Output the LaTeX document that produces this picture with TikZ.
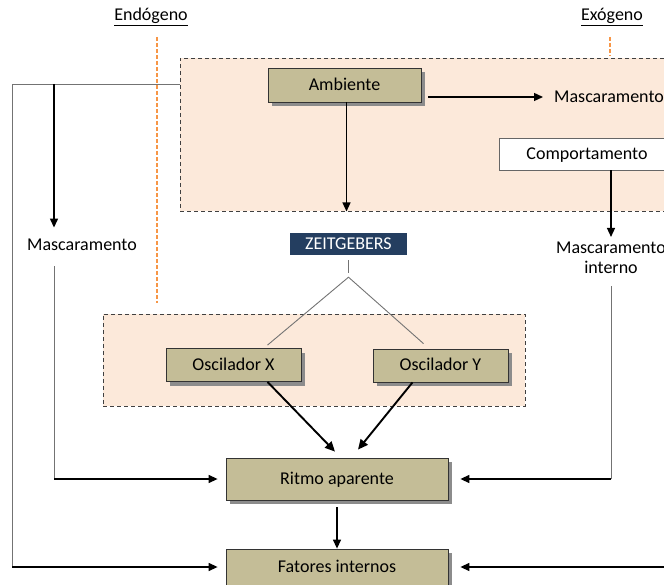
\documentclass[tikz,border=0pt]{standalone}
\usepackage{fontspec}
\setmainfont{Carlito}
\usetikzlibrary{shadows,arrows.meta}
\definecolor{caqui}{RGB}{196,189,151}
\definecolor{pessego}{RGB}{252,233,218}
\definecolor{azulzeit}{RGB}{36,62,96}
\definecolor{laranja}{RGB}{247,150,70}
\tikzset{
  letra/.style={font=\fontsize{18}{20}\selectfont, inner sep=2pt},
  rotulo/.style={letra, text height=11.5pt, text depth=1pt},
  caixa/.style={rotulo, draw=black!80, line width=0.8pt, fill=caqui,
    drop shadow={shadow xshift=4pt, shadow yshift=-4pt, fill=black!45, opacity=1}},
  regiao/.style={draw=black!75, line width=0.9pt, dash pattern=on 4pt off 3pt, fill=pessego},
  limite/.style={draw=laranja, line width=1.3pt, dash pattern=on 4pt off 2pt},
  fio/.style={draw=black!55, line width=0.9pt},
  seta/.style={-{Triangle[length=9pt,width=8pt]}, line width=1.3pt},
  setagrossa/.style={-{Triangle[length=10pt,width=9pt]}, line width=1.9pt},
}

\begin{document}
\begin{tikzpicture}[x=1pt,y=-1pt]
\useasboundingbox (0,0) rectangle (664,585);
\clip (0,0) rectangle (664,585);

% linhas de limite
\draw[limite] (157,37) -- (157,303);
\draw[limite] (610,37) -- (610,56);
\node[letra] (endo) at (151,17) {\underline{Endógeno}};
\node[letra] (exo) at (612,17) {\underline{Exógeno}};

% regioes tracejadas
\node[regiao, minimum width=540pt, minimum height=153pt] (ambreg) at (450,134.5) {};
\node[regiao, minimum width=422pt, minimum height=92pt] (oscreg) at (314,360) {};

% caixas
\node[caixa, minimum width=153pt, minimum height=34pt] (ambiente) at (344.5,85) {Ambiente};
\node[rotulo, anchor=west] (mascExt) at (552,97) {Mascaramento};
\node[rotulo, draw=black!60, line width=0.8pt, fill=white, minimum width=176pt, minimum height=32pt] (comport) at (587,154) {Comportamento};
\node[rotulo] (mascLeft) at (82,245) {Mascaramento};
\node[letra, align=center] (mascInt) at (611,258) {Mascaramento\\interno};
\node[rotulo, fill=azulzeit, text=white, minimum width=117pt, minimum height=22pt, inner sep=0pt] (zeit) at (348.5,244) {ZEITGEBERS};
\node[caixa, minimum width=135pt, minimum height=33pt] (oscX) at (233.5,365) {Oscilador X};
\node[caixa, minimum width=135pt, minimum height=33pt] (oscY) at (440.5,365.5) {Oscilador Y};
\node[caixa, minimum width=222pt, minimum height=42pt] (ritmo) at (337,479) {Ritmo aparente};
\node[caixa, minimum width=222pt, minimum height=36pt] (fatores) at (337,567) {Fatores internos};

\coordinate (cantoE) at (12,84);
\coordinate (topoE) at (54,84);
\coordinate (borda) at (670,0);
\coordinate (vertice) at ([yshift=-22pt]zeit.south);

% ligacoes
\draw[seta, shorten >=9pt] ([xshift=7pt]ambiente.east |- mascExt.west) -- (mascExt.west);
\draw[seta] ([xshift=2pt]ambiente.south) -- ([xshift=2pt]ambiente.south |- ambreg.south);
\draw[seta, shorten >=3pt] (comport.south -| mascInt) -- (mascInt.north);
\draw[fio] (ambreg.west |- cantoE) -- (cantoE) -- (cantoE |- fatores.west);
\draw[seta, shorten >=8pt] (cantoE |- fatores.west) -- (fatores.west);
\draw[seta, shorten >=9pt] (topoE) -- (topoE |- mascLeft.north);
\draw[fio] ([yshift=-13pt]topoE |- mascLeft.south) -- (topoE |- ritmo.west);
\draw[seta, shorten >=8pt] (topoE |- ritmo.west) -- (ritmo.west);
\draw[fio] ([yshift=-10pt]mascInt.south) -- (mascInt.south |- ritmo.east);
\draw[seta, shorten >=12pt] (mascInt.south |- ritmo.east) -- (ritmo.east);
\draw[seta, shorten >=12pt] (borda |- fatores.east) -- (fatores.east);
\draw[fio] ([yshift=-5pt]zeit.south) -- ++(0,13);
\draw[fio] ([xshift=34pt,yshift=3pt]oscX.north) -- (vertice) -- ([xshift=-17pt,yshift=5pt]oscY.north);
\draw[setagrossa] ([xshift=34pt]oscX.south) -- ([xshift=-2pt,yshift=6pt]ritmo.north);
\draw[setagrossa] ([xshift=-28pt]oscY.south) -- ([xshift=21pt,yshift=8pt]ritmo.north);
\draw[seta] ([yshift=-7pt]ritmo.south) -- (fatores.north);
\end{tikzpicture}
\end{document}
